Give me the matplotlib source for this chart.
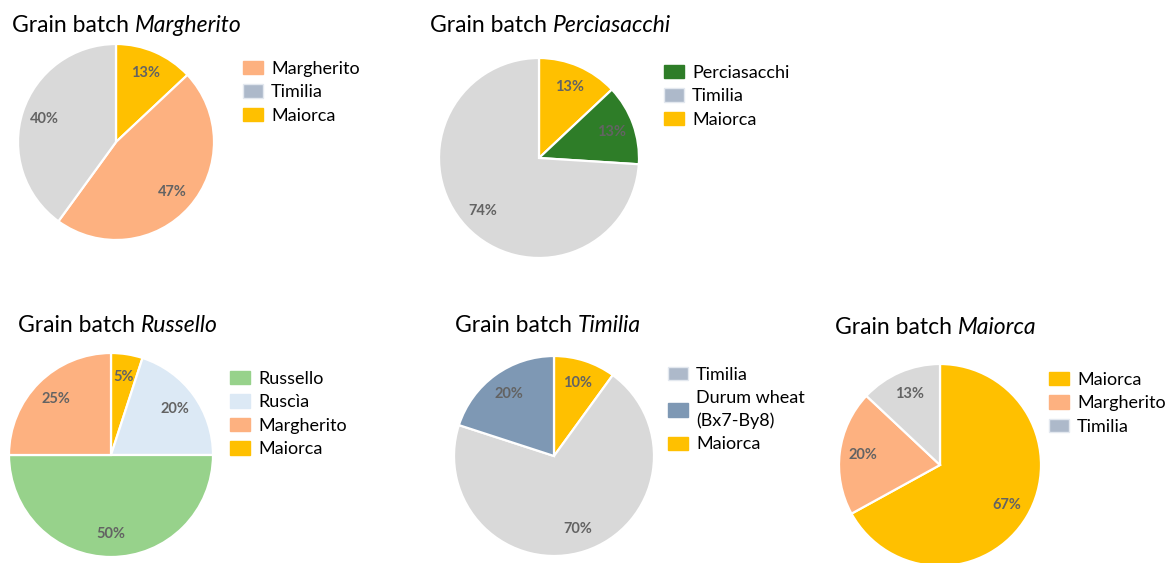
import matplotlib.pyplot as plt
from matplotlib.patches import Patch

# --- data (slices listed clockwise from 12 o'clock) ---
margherito_labels = ["Maiorca", "Margherito", "Timilia"]
margherito_values = [13, 47, 40]
perciasacchi_labels = ["Maiorca", "Perciasacchi", "Timilia"]
perciasacchi_values = [13, 13, 74]
russello_labels = ["Maiorca", "Ruscìa", "Russello", "Margherito"]
russello_values = [5, 20, 50, 25]
timilia_labels = ["Maiorca", "Timilia", "Durum wheat"]
timilia_values = [10, 70, 20]
maiorca_labels = ["Maiorca", "Margherito", "Timilia"]
maiorca_values = [67, 20, 13]

# legend entries (order as shown)
margherito_legend = ["Margherito", "Timilia", "Maiorca"]
perciasacchi_legend = ["Perciasacchi", "Timilia", "Maiorca"]
russello_legend = ["Russello", "Ruscìa", "Margherito", "Maiorca"]
timilia_legend = ["Timilia", "Durum wheat\n(Bx7-By8)", "Maiorca"]
maiorca_legend = ["Maiorca", "Margherito", "Timilia"]

# slice colours / legend swatch colours
slice_col = {"Maiorca": "#FFC000", "Margherito": "#FDB180", "Timilia": "#D9D9D9",
             "Perciasacchi": "#2E7D28", "Russello": "#97D28B", "Ruscìa": "#DCE9F5",
             "Durum wheat": "#7E98B4"}
legend_col = dict(slice_col)
legend_col["Timilia"] = "#ADB9CA"
legend_col["Durum wheat\n(Bx7-By8)"] = "#7E98B4"

plt.rcParams['font.family'] = ['Lato', 'DejaVu Sans']

W, H = 1169, 563
fig = plt.figure(figsize=(W / 100, H / 100), dpi=100)


def px(x, y):
    return x / W, 1 - y / H


def draw(cx, cy, r, labels, values, name, title_xy, legend, leg_xy):
    ax = fig.add_axes([(cx - r) / W, 1 - (cy + r) / H, 2 * r / W, 2 * r / H])
    ax.pie(values, colors=[slice_col[l] for l in labels], startangle=90,
           counterclock=False, radius=1, autopct='%d%%', pctdistance=0.77,
           wedgeprops=dict(edgecolor='white', linewidth=1.6),
           textprops=dict(color='#636363', fontsize=10.5, fontweight='bold'))
    ax.set_xlim(-1, 1)
    ax.set_ylim(-1, 1)
    ax.set_aspect('equal')
    ax.axis('off')
    tx, ty = px(*title_xy)
    t = fig.text(tx, ty, "Grain batch ", fontsize=16.5, va='center', ha='left')
    fig.canvas.draw()
    bb = t.get_window_extent()
    fig.text(bb.x1 / W, ty, name, fontsize=16.5, style='italic', va='center', ha='left')
    handles = [Patch(facecolor=legend_col[l], edgecolor='#E3E8EF' if l == 'Timilia' else legend_col[l])
               for l in legend]
    lx, ly = px(*leg_xy)
    leg = fig.legend(handles, legend, loc='upper left', bbox_to_anchor=(lx, ly), frameon=False,
                     fontsize=13, handlelength=1.1, handleheight=0.75, labelspacing=0.41,
                     handletextpad=0.45, borderaxespad=0, borderpad=0)
    for txt in leg.get_texts():
        txt.set_linespacing(1.45)


draw(116, 142, 98, margherito_labels, margherito_values, "Margherito", (12, 26),
     margherito_legend, (243, 61))
draw(539, 158, 100, perciasacchi_labels, perciasacchi_values, "Perciasacchi", (430, 26),
     perciasacchi_legend, (664, 65))
draw(111, 455, 102, russello_labels, russello_values, "Russello", (18, 326),
     russello_legend, (230, 371))
draw(554, 456, 100, timilia_labels, timilia_values, "Timilia", (455, 326),
     timilia_legend, (668, 367))
draw(940, 465, 101, maiorca_labels, maiorca_values, "Maiorca", (835, 328),
     maiorca_legend, (1049, 372))

fig.savefig("out.png", dpi=100)
